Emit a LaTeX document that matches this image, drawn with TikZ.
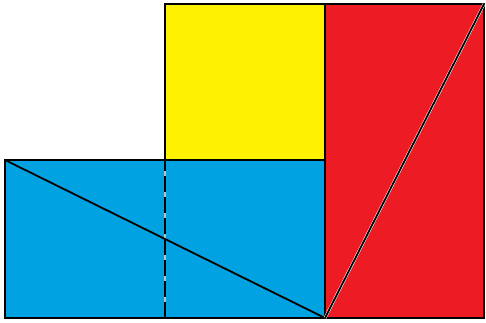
\documentclass[tikz,border=0pt]{standalone}
\usepackage{tikz}
\definecolor{giallo}{RGB}{255,242,0}
\definecolor{rosso}{RGB}{237,28,36}
\definecolor{azzurro}{RGB}{0,162,226}

\begin{document}
\begin{tikzpicture}[x=1pt,y=1pt,line width=1.8pt]
\useasboundingbox (0,0) rectangle (486,322);
\coordinate (A) at (5,4); \coordinate (B) at (165,4); \coordinate (C) at (325,4); \coordinate (D) at (484,4);
\coordinate (E) at (5,162); \coordinate (F) at (165,162); \coordinate (G) at (325,162);
\coordinate (H) at (165,318); \coordinate (K) at (325,318); \coordinate (L) at (484,318);
\filldraw[fill=azzurro] (A) rectangle (G);
\filldraw[fill=giallo] (F) rectangle (K);
\filldraw[fill=rosso] (C) rectangle (L);
\draw[gray!50] (B)--(F);
\draw[dash pattern=on 16pt off 5pt] (B)--(F);
\draw (E)--(C);
\draw[white,line width=2.8pt] (C)--(L);
\draw (C)--(L);
\end{tikzpicture}
\end{document}
